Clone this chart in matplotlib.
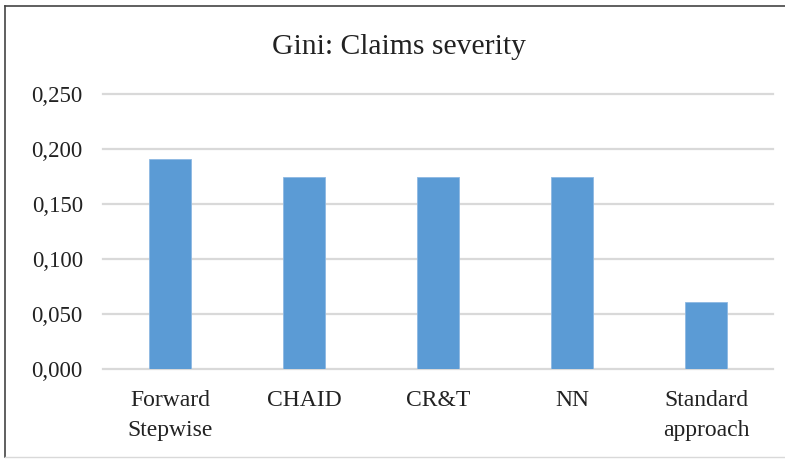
import matplotlib
matplotlib.use('Agg')
import matplotlib.pyplot as plt
from matplotlib.lines import Line2D

categories = ["Forward\nStepwise", "CHAID", "CR&T", "NN", "Standard\napproach"]
gini = [0.191, 0.1745, 0.1745, 0.1745, 0.0605]
yticks = [0.0, 0.05, 0.10, 0.15, 0.20, 0.25]

plt.rcParams['font.family'] = ['Liberation Serif', 'DejaVu Serif']

fig = plt.figure(figsize=(7.85, 4.59), dpi=100)
ax = fig.add_axes([103 / 785, 1 - 369 / 459, 670 / 785, 275 / 459])

x = range(len(categories))
ax.bar(x, gini, width=0.313, color='#5B9BD5', edgecolor='#8DB8E2',
       linewidth=0.6, zorder=3)

ax.set_xlim(-0.5, len(categories) - 0.5)
ax.set_ylim(0, 0.25)
ax.set_yticks(yticks)
ax.set_yticklabels([f"{v:.3f}".replace('.', ',') for v in yticks],
                   fontsize=16.5, color='#222222')
ax.set_xticks(list(x))
ax.set_xticklabels(categories, fontsize=17, color='#222222', linespacing=1.6)
ax.tick_params(axis='both', length=0)
ax.tick_params(axis='y', pad=14.5)
ax.tick_params(axis='x', pad=15)

# gridlines (drawn by hand so the top/bottom ones are not clipped)
for v in yticks:
    ax.axhline(v, color='#D9D9D9', linewidth=1.6, zorder=1, clip_on=False)

for s in ax.spines.values():
    s.set_visible(False)

fig.text(399 / 785, 1 - 47 / 459, "Gini: Claims severity", fontsize=21.3,
         ha='center', va='center', color='#222222')

# chart border
W, H = 785, 459
fig.add_artist(Line2D([4.5 / W, 4.5 / W], [1 - 5.5 / H, 1 - 457 / H],
                      transform=fig.transFigure, color='#444444', lw=1.2))
fig.add_artist(Line2D([4.5 / W, 1], [1 - 5.5 / H, 1 - 5.5 / H],
                      transform=fig.transFigure, color='#444444', lw=1.2))
fig.add_artist(Line2D([4.5 / W, 1], [1 - 457 / H, 1 - 457 / H],
                      transform=fig.transFigure, color='#D9D9D9', lw=1.0))

fig.savefig("out.png", dpi=100)
plt.close(fig)
